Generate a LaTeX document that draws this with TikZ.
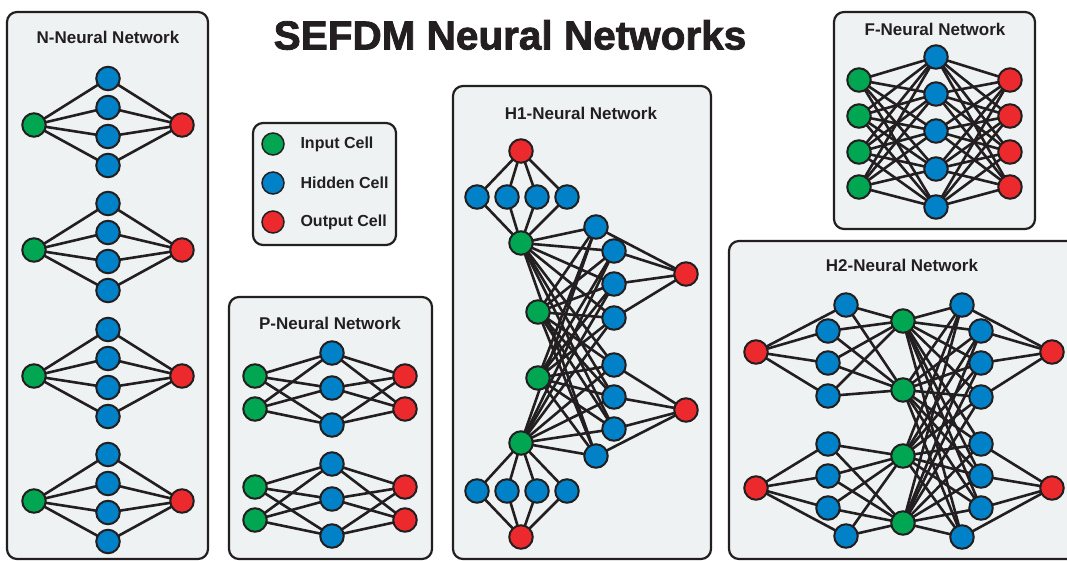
\documentclass[tikz,border=0pt]{standalone}
\usepackage{fontspec}
\setmainfont{Liberation Sans}
\newfontfamily\heavyfont[FakeBold=2]{Liberation Sans Bold}
\definecolor{ink}{HTML}{231F20}
\definecolor{cgreen}{HTML}{00A651}
\definecolor{cblue}{HTML}{0081C8}
\definecolor{cred}{HTML}{EC2A2E}
\definecolor{panelbg}{HTML}{EEF2F3}
\pgfdeclarelayer{panels}
\pgfdeclarelayer{links}
\pgfsetlayers{panels,links,main}
\tikzset{
  cell/.style={circle, draw=ink, line width=2pt, minimum size=23.5pt, inner sep=0pt},
  inp/.style={cell, fill=cgreen},
  hid/.style={cell, fill=cblue},
  outc/.style={cell, fill=cred},
  keycell/.style={cell, line width=1.5pt, minimum size=22pt},
  link/.style={draw=ink, line width=2.6pt},
  panel/.style={draw=ink, line width=2.2pt, fill=panelbg, rounded corners=10pt},
  ptitle/.style={font=\bfseries\fontsize{17}{20}\selectfont, text=ink},
  keytext/.style={font=\bfseries\fontsize{16}{19}\selectfont, text=ink, anchor=west}
}
\begin{document}
\begin{tikzpicture}[x=1pt,y=-1pt]
\useasboundingbox (0,0) rectangle (1067,560);

% ---------- panels ----------
\begin{pgfonlayer}{panels}
  \fill[white] (0,0) rectangle (1067,560);
  \path[panel] (7,12) rectangle (208,559);
  \path[panel] (253,123) rectangle (396,245);
  \path[panel] (229,297) rectangle (432,559);
  \path[panel] (453,86) rectangle (711,559);
  \path[panel] (834,12) rectangle (1035,229);
  \path[panel] (729,241) rectangle (1078,559);
\end{pgfonlayer}

% ---------- titles ----------
\node[font=\heavyfont\fontsize{40.5}{46}\selectfont, text=ink] (title) at (510,35) {SEFDM Neural Networks};
\node[ptitle] (tN) at (108,37) {N-Neural Network};
\node[ptitle] (tP) at (330,323) {P-Neural Network};
\node[ptitle] (tH1) at (581,113) {H1-Neural Network};
\node[ptitle] (tF) at (935,29) {F-Neural Network};
\node[ptitle] (tH2) at (902,265) {H2-Neural Network};

% ---------- legend ----------
\node[keycell, fill=cgreen] (kI) at (273,144) {};
\node[keycell, fill=cblue] (kH) at (273,183) {};
\node[keycell, fill=cred] (kO) at (273,222) {};
\node[keytext] (kIt) at (297,144) {Input Cell};
\node[keytext] (kHt) at (297,183) {Hidden Cell};
\node[keytext] (kOt) at (297,222) {Output Cell};

% ---------- N-Neural Network: four 1-4-1 stacks ----------
\foreach \k/\c in {1/125,2/250,3/376,4/501}{
  \node[inp] (n\k-i) at (34,\c) {};
  \node[outc] (n\k-o) at (182,\c) {};
  \foreach \j/\d in {1/-46.5,2/-17.5,3/11.5,4/40.5}
    \node[hid] (n\k-h\j) at (108,\c+\d) {};
}
\begin{pgfonlayer}{links}
  \foreach \k in {1,...,4}
    \foreach \j in {1,...,4}
      \draw[link] (n\k-i.center) -- (n\k-h\j.center) -- (n\k-o.center);
\end{pgfonlayer}

% ---------- P-Neural Network: two 2-3-2 stacks ----------
\foreach \k/\c in {1/0,2/111}{
  \node[inp] (p\k-i1) at (255,376+\c) {};
  \node[inp] (p\k-i2) at (255,409+\c) {};
  \node[hid] (p\k-h1) at (332,353+\c) {};
  \node[hid] (p\k-h2) at (332,388+\c) {};
  \node[hid] (p\k-h3) at (332,425+\c) {};
  \node[outc] (p\k-o1) at (405,376+\c) {};
  \node[outc] (p\k-o2) at (405,409+\c) {};
}
\begin{pgfonlayer}{links}
  \foreach \k in {1,2}
    \foreach \h in {1,2,3}
      \foreach \e in {1,2}{
        \draw[link] (p\k-i\e.center) -- (p\k-h\h.center);
        \draw[link] (p\k-h\h.center) -- (p\k-o\e.center);
      }
\end{pgfonlayer}

% ---------- H1-Neural Network ----------
\node[outc] (a-t) at (521,151) {};
\node[outc] (a-b) at (521,537) {};
\foreach \j/\x in {1/477,2/507,3/537,4/567}{
  \node[hid] (a-t\j) at (\x,197) {};
  \node[hid] (a-b\j) at (\x,491) {};
}
\node[inp] (a-g1) at (521,243) {};
\node[inp] (a-g2) at (538,312) {};
\node[inp] (a-g3) at (538,378) {};
\node[inp] (a-g4) at (521,443) {};
\node[hid] (a-h1) at (596,227) {};
\node[hid] (a-h2) at (614,251) {};
\node[hid] (a-h3) at (614,284) {};
\node[hid] (a-h4) at (614,318) {};
\node[hid] (a-h5) at (614,365) {};
\node[hid] (a-h6) at (614,397) {};
\node[hid] (a-h7) at (614,429) {};
\node[hid] (a-h8) at (596,456) {};
\node[outc] (a-o1) at (686,274) {};
\node[outc] (a-o2) at (686,410) {};
\begin{pgfonlayer}{links}
  \foreach \j in {1,...,4}{
    \draw[link] (a-t.center) -- (a-t\j.center) -- (a-g1.center);
    \draw[link] (a-b.center) -- (a-b\j.center) -- (a-g4.center);
  }
  \foreach \g in {1,...,4}
    \foreach \h in {1,...,8}
      \draw[link] (a-g\g.center) -- (a-h\h.center);
  \foreach \h in {1,...,4}
    \draw[link] (a-h\h.center) -- (a-o1.center);
  \foreach \h in {5,...,8}
    \draw[link] (a-h\h.center) -- (a-o2.center);
\end{pgfonlayer}

% ---------- F-Neural Network: 4-5-4 ----------
\foreach \j/\y in {1/80,2/116,3/152,4/187}{
  \node[inp] (f-i\j) at (859,\y) {};
  \node[outc] (f-o\j) at (1010,\y) {};
}
\foreach \j/\y in {1/57,2/94,3/131,4/169,5/207}
  \node[hid] (f-h\j) at (936,\y) {};
\begin{pgfonlayer}{links}
  \foreach \h in {1,...,5}
    \foreach \e in {1,...,4}{
      \draw[link] (f-i\e.center) -- (f-h\h.center);
      \draw[link] (f-h\h.center) -- (f-o\e.center);
    }
\end{pgfonlayer}

% ---------- H2-Neural Network ----------
\node[outc] (b-l1) at (756,352) {};
\node[outc] (b-l2) at (756,488) {};
\node[outc] (b-r1) at (1052,352) {};
\node[outc] (b-r2) at (1052,488) {};
\node[hid] (b-p1) at (846,305) {};
\node[hid] (b-p2) at (828,331) {};
\node[hid] (b-p3) at (828,363) {};
\node[hid] (b-p4) at (828,396) {};
\node[hid] (b-p5) at (828,444) {};
\node[hid] (b-p6) at (828,476) {};
\node[hid] (b-p7) at (828,508) {};
\node[hid] (b-p8) at (846,536) {};
\node[inp] (b-g1) at (903,321) {};
\node[inp] (b-g2) at (903,390) {};
\node[inp] (b-g3) at (903,456) {};
\node[inp] (b-g4) at (903,523) {};
\node[hid] (b-q1) at (962,305) {};
\node[hid] (b-q2) at (981,331) {};
\node[hid] (b-q3) at (981,363) {};
\node[hid] (b-q4) at (981,397) {};
\node[hid] (b-q5) at (981,444) {};
\node[hid] (b-q6) at (981,476) {};
\node[hid] (b-q7) at (981,508) {};
\node[hid] (b-q8) at (962,537) {};
\begin{pgfonlayer}{links}
  \foreach \h in {1,...,4}{
    \draw[link] (b-l1.center) -- (b-p\h.center);
    \draw[link] (b-p\h.center) -- (b-g1.center);
    \draw[link] (b-p\h.center) -- (b-g2.center);
    \draw[link] (b-q\h.center) -- (b-r1.center);
  }
  \foreach \h in {5,...,8}{
    \draw[link] (b-l2.center) -- (b-p\h.center);
    \draw[link] (b-p\h.center) -- (b-g3.center);
    \draw[link] (b-p\h.center) -- (b-g4.center);
    \draw[link] (b-q\h.center) -- (b-r2.center);
  }
  \foreach \g in {1,...,4}
    \foreach \h in {1,...,8}
      \draw[link] (b-g\g.center) -- (b-q\h.center);
\end{pgfonlayer}
\end{tikzpicture}
\end{document}
